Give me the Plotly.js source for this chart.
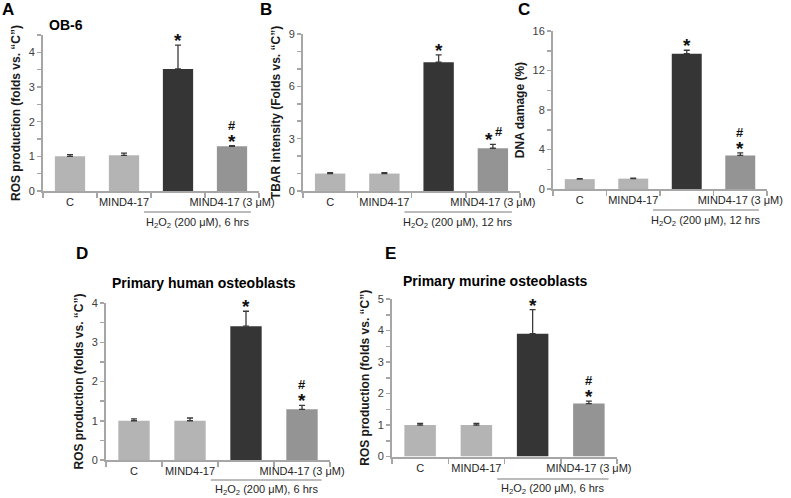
<!DOCTYPE html>
<html><head><meta charset="utf-8">
<script src="https://cdn.plot.ly/plotly-3.0.1.min.js"></script>
<style>html,body{margin:0;padding:0;background:#fff}#chart{width:791px;height:498px}</style>
</head><body><div id="chart"></div>
<script>
// ---- data ----
const categories = ['C', 'MIND4-17', 'H2O2', 'MIND4-17 + H2O2'];
const tickLabels = ['C', 'MIND4-17', '', 'MIND4-17 (3 μM)'];
const barColors = ['#b4b4b4', '#b4b4b4', '#353535', '#949494'];

const valuesA = [1.0, 1.03, 3.52, 1.29];
const errorsA = [0.05, 0.06, 0.69, 0.02];
const valuesB = [1.0, 1.0, 7.38, 2.45];
const errorsB = [0.05, 0.05, 0.42, 0.22];
const valuesC = [1.0, 1.05, 13.7, 3.4];
const errorsC = [0.05, 0.05, 0.35, 0.25];
const valuesD = [1.0, 1.0, 3.41, 1.29];
const errorsD = [0.05, 0.07, 0.38, 0.1];
const valuesE = [1.0, 1.0, 3.9, 1.68];
const errorsE = [0.05, 0.05, 0.76, 0.08];

const yTitleROS = 'ROS production (folds vs. “C”)';
const yTitleTBAR = 'TBAR intensity (Folds vs. “C”)';
const yTitleDNA = 'DNA damage (%)';
const treat6 = 'H<sub>2</sub>O<sub>2</sub> (200 μM), 6 hrs';
const treat12 = 'H<sub>2</sub>O<sub>2</sub> (200 μM), 12 hrs';

// ---- layout helpers ----
const W = 791, H = 498;
const FONT = 'Arial, "Liberation Sans", Helvetica, sans-serif';
const AX = '#a6a6a6';
const px = p => p / W;
const py = p => 1 - p / H;

const panels = [
  {id: '',  letter: 'A', lx: 8,   ly: 9,   x0: 43,  x1: 259, y0: 191,   y1: 35,  range: [0, 4.5], dtick: 1, minor: 0.5,
   vals: valuesA, errs: errorsA, ytitle: yTitleROS, treat: treat6, lineY: 212, textY: 223, stack: true,
   title: 'OB-6', tx: 66, ty: 25},
  {id: '2', letter: 'B', lx: 266, ly: 9,   x0: 303, x1: 520, y0: 191,   y1: 34,  range: [0, 9],   dtick: 3, minor: 1,
   vals: valuesB, errs: errorsB, ytitle: yTitleTBAR, treat: treat12, lineY: 212, textY: 223, stack: false},
  {id: '3', letter: 'C', lx: 524, ly: 9,   x0: 553, x1: 767, y0: 189,   y1: 31,  range: [0, 16],  dtick: 4, minor: 2,
   vals: valuesC, errs: errorsC, ytitle: yTitleDNA, treat: treat12, lineY: 210, textY: 221, stack: true},
  {id: '4', letter: 'D', lx: 82,  ly: 253, x0: 106, x1: 330, y0: 460,   y1: 303, range: [0, 4],   dtick: 1, minor: 0.5,
   vals: valuesD, errs: errorsD, ytitle: yTitleROS, treat: treat6, lineY: 480, textY: 490, stack: true,
   title: 'Primary human osteoblasts', tx: 204, ty: 283},
  {id: '5', letter: 'E', lx: 390, ly: 253, x0: 392, x1: 617, y0: 456.5, y1: 299, range: [0, 5],   dtick: 1, minor: 0.5,
   vals: valuesE, errs: errorsE, ytitle: yTitleROS, treat: treat6, lineY: 479, textY: 489, stack: true,
   title: 'Primary murine osteoblasts', tx: 495, ty: 281}
];

const data = [];
const layout = {
  width: W, height: H, margin: {l: 0, r: 0, t: 0, b: 0},
  paper_bgcolor: '#fff', plot_bgcolor: 'rgba(0,0,0,0)',
  showlegend: false, font: {family: FONT, color: '#333'},
  annotations: [], shapes: []
};

const starFont = {size: 19, family: FONT, color: '#111', weight: 'bold'};
const hashFont = {size: 13, family: FONT, color: '#111', weight: 'bold'};

panels.forEach(p => {
  const xa = 'x' + p.id, ya = 'y' + p.id;
  const xk = 'xaxis' + p.id, yk = 'yaxis' + p.id;
  data.push({
    type: 'bar', x: categories, y: p.vals, xaxis: xa, yaxis: ya, width: 0.56,
    marker: {color: barColors, line: {width: 0}},
    error_y: {type: 'data', symmetric: false, array: p.errs, arrayminus: [0, 0, 0, 0],
              color: '#3a3a3a', thickness: 1.3, width: 3},
    hoverinfo: 'none'
  });
  layout[xk] = {
    domain: [px(p.x0), px(p.x1)], anchor: ya, type: 'category',
    categoryorder: 'array', categoryarray: categories,
    tickmode: 'array', tickvals: categories, ticktext: tickLabels, tickangle: 0,
    tickson: 'boundaries', ticks: 'outside', ticklen: 5, tickwidth: 1.5, tickcolor: AX,
    showline: true, linecolor: AX, linewidth: 2, showgrid: false, zeroline: false,
    range: [-0.5, 3.5], tickfont: {size: 11, family: FONT, color: '#262626'}, fixedrange: true
  };
  layout[yk] = {
    domain: [py(p.y0), py(p.y1)], anchor: xa, range: p.range, dtick: p.dtick, tick0: 0,
    ticks: 'outside', ticklen: 4, tickwidth: 1.5, tickcolor: AX,
    minor: {dtick: p.minor, ticks: 'outside', ticklen: 4, tickwidth: 1.5, tickcolor: AX, showgrid: false},
    showline: true, linecolor: AX, linewidth: 2, showgrid: false, zeroline: false,
    tickfont: {size: 11, family: FONT, color: '#404040'},
    title: {text: p.ytitle, font: {size: 12, family: FONT, color: '#1a1a1a', weight: 'bold'}, standoff: 5},
    fixedrange: true
  };
  // significance marks
  const top2 = p.vals[2] + p.errs[2], top3 = p.vals[3] + p.errs[3];
  layout.annotations.push({xref: xa, yref: ya, x: categories[2], y: top2, text: '*', showarrow: false,
    yanchor: 'bottom', yshift: -8, font: starFont});
  if (p.stack) {
    layout.annotations.push({xref: xa, yref: ya, x: categories[3], y: top3, text: '*', showarrow: false,
      yanchor: 'bottom', yshift: -8, font: starFont});
    layout.annotations.push({xref: xa, yref: ya, x: categories[3], y: top3, text: '#', showarrow: false,
      yanchor: 'bottom', yshift: 11, font: hashFont});
  } else {
    layout.annotations.push({xref: xa, yref: ya, x: categories[3], y: top3, text: '*', showarrow: false,
      yanchor: 'bottom', xshift: -4, yshift: -8, font: starFont});
    layout.annotations.push({xref: xa, yref: ya, x: categories[3], y: top3, text: '#', showarrow: false,
      yanchor: 'bottom', xshift: 6, yshift: 3, font: hashFont});
  }
  // treatment bracket line + label
  layout.shapes.push({type: 'line', xref: xa, yref: 'paper', x0: 1.37, x1: 3.35,
    y0: py(p.lineY), y1: py(p.lineY), line: {color: AX, width: 1.5}});
  layout.annotations.push({xref: xa, yref: 'paper', x: 2.36, y: py(p.textY), text: p.treat, showarrow: false,
    xanchor: 'center', yanchor: 'middle', font: {size: 11, family: FONT, color: '#262626'}});
  // panel letter
  layout.annotations.push({xref: 'paper', yref: 'paper', x: px(p.lx), y: py(p.ly), text: p.letter, showarrow: false,
    xanchor: 'center', yanchor: 'middle', font: {size: 17, family: FONT, color: '#000', weight: 'bold'}});
  if (p.title) {
    layout.annotations.push({xref: 'paper', yref: 'paper', x: px(p.tx), y: py(p.ty), text: p.title, showarrow: false,
      xanchor: 'center', yanchor: 'middle', font: {size: 14, family: FONT, color: '#000', weight: 'bold'}});
  }
});

Plotly.newPlot('chart', data, layout, {staticPlot: true, displayModeBar: false});
</script></body></html>
